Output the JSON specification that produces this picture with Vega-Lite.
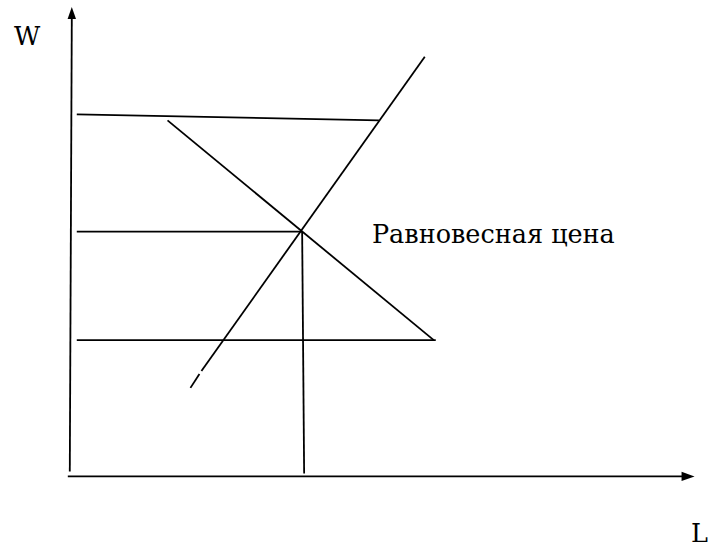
{
  "$schema": "https://vega.github.io/schema/vega-lite/v6.json",
  "width": 708,
  "height": 548,
  "autosize": {"type": "fit", "contains": "padding"},
  "padding": 0,
  "background": "white",
  "config": {"view": {"stroke": null}},
  "datasets": {
    "segments": [
      {"name": "W axis", "x": -1, "y": 5, "x2": 1, "y2": 461},
      {"name": "L axis", "x": -3, "y": 0, "x2": 614, "y2": 0},
      {"name": "upper price", "x": 6, "y": 364, "x2": 309, "y2": 358},
      {"name": "equilibrium price", "x": 6, "y": 246, "x2": 232, "y2": 246},
      {"name": "lower price", "x": 6, "y": 137, "x2": 366, "y2": 137},
      {"name": "equilibrium quantity", "x": 232, "y": 246, "x2": 234, "y2": 3},
      {"name": "demand", "x": 97, "y": 358, "x2": 364, "y2": 137},
      {"name": "supply a", "x": 120, "y": 89, "x2": 129, "y2": 103},
      {"name": "supply b", "x": 131, "y": 106, "x2": 355, "y2": 422}
    ],
    "arrowsUp": [{"x": 1, "y": 466}],
    "arrowsRight": [{"x": 619, "y": 0}],
    "labels": [
      {"text": "W", "x": -57, "y": 434},
      {"text": "L", "x": 622, "y": -66},
      {"text": "Равновесная цена", "x": 302, "y": 235}
    ]
  },
  "layer": [
    {
      "data": {"name": "segments"},
      "mark": {"type": "rule", "color": "black", "strokeWidth": 1.8},
      "encoding": {
        "x": {"field": "x", "type": "quantitative", "scale": {"domain": [-71, 637], "nice": false, "zero": false}, "axis": null},
        "y": {"field": "y", "type": "quantitative", "scale": {"domain": [-69, 479], "nice": false, "zero": false}, "axis": null},
        "x2": {"field": "x2"},
        "y2": {"field": "y2"}
      }
    },
    {
      "data": {"name": "arrowsUp"},
      "mark": {"type": "point", "shape": "M0,-1L-0.7,1L0.7,1Z", "filled": true, "color": "black", "opacity": 1, "size": 144},
      "encoding": {
        "x": {"field": "x", "type": "quantitative", "scale": {"domain": [-71, 637], "nice": false, "zero": false}, "axis": null},
        "y": {"field": "y", "type": "quantitative", "scale": {"domain": [-69, 479], "nice": false, "zero": false}, "axis": null}
      }
    },
    {
      "data": {"name": "arrowsRight"},
      "mark": {"type": "point", "shape": "M1,0L-1,-0.7L-1,0.7Z", "filled": true, "color": "black", "opacity": 1, "size": 169},
      "encoding": {
        "x": {"field": "x", "type": "quantitative", "scale": {"domain": [-71, 637], "nice": false, "zero": false}, "axis": null},
        "y": {"field": "y", "type": "quantitative", "scale": {"domain": [-69, 479], "nice": false, "zero": false}, "axis": null}
      }
    },
    {
      "data": {"name": "labels"},
      "mark": {"type": "text", "font": "DejaVu Serif", "fontSize": 25.5, "color": "black", "align": "left", "baseline": "alphabetic"},
      "encoding": {
        "x": {"field": "x", "type": "quantitative", "scale": {"domain": [-71, 637], "nice": false, "zero": false}, "axis": null},
        "y": {"field": "y", "type": "quantitative", "scale": {"domain": [-69, 479], "nice": false, "zero": false}, "axis": null},
        "text": {"field": "text", "type": "nominal"}
      }
    }
  ]
}
